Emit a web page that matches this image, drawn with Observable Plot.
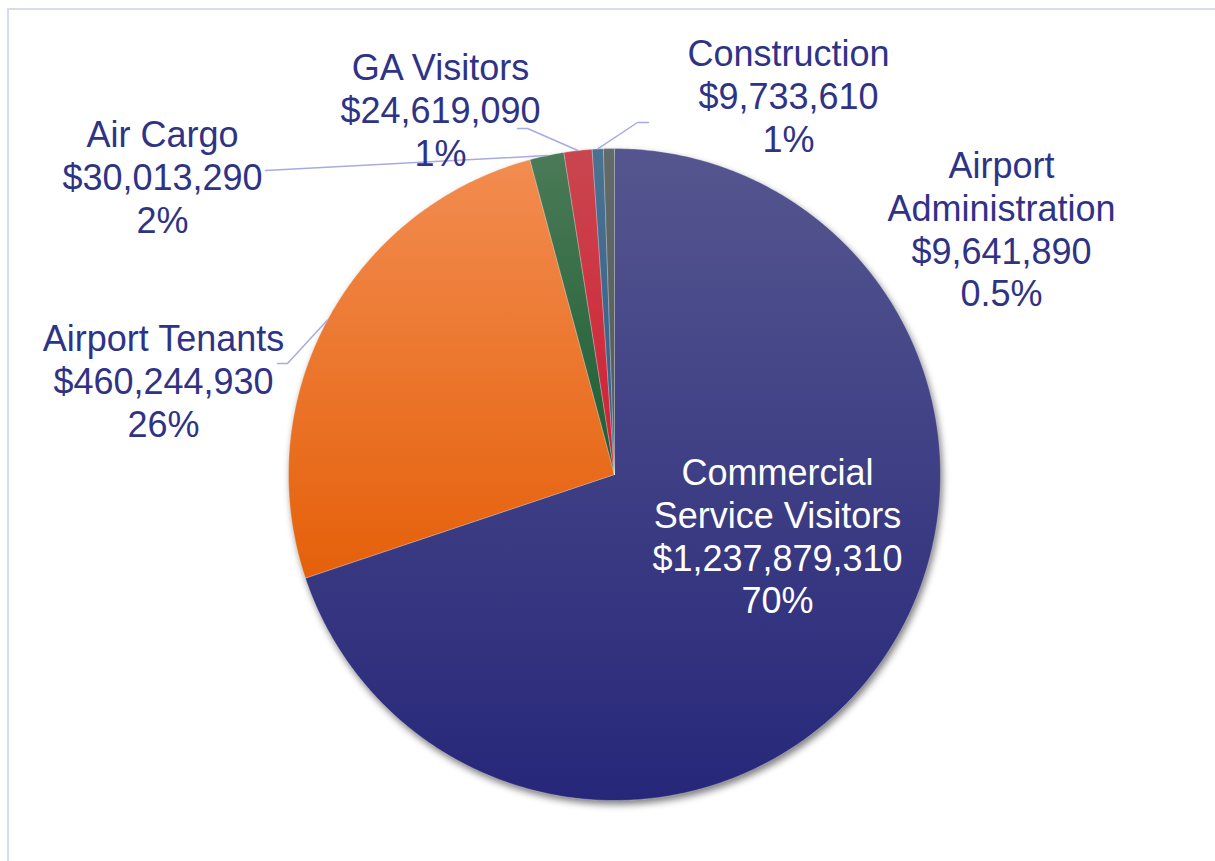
<!DOCTYPE html>
<html>
<head>
<meta charset="utf-8">
<script src="https://cdn.jsdelivr.net/npm/d3@7"></script>
<script src="https://cdn.jsdelivr.net/npm/@observablehq/plot@0.6"></script>
<style>
  html, body { margin: 0; padding: 0; background: #fff; }
  #wrap { position: relative; width: 1215px; height: 861px; overflow: hidden; }
  #frame { position: absolute; left: 7px; top: 8px; width: 1300px; height: 1000px;
           border-left: 2px solid #d9dcf0; border-top: 2px solid #d9dcf0; }
  #chart { position: absolute; left: 0; top: 0; }
  #chart svg { display: block; }
  #defs { position: absolute; width: 0; height: 0; }
</style>
</head>
<body>
<svg id="defs" width="0" height="0"><defs id="defsInner"></defs></svg>
<div id="wrap"><div id="frame"></div><div id="chart"></div></div>
<script>
// ---------- data ----------
const categories = ["Commercial Service Visitors", "Airport Tenants", "Air Cargo", "GA Visitors", "Construction", "Airport Administration"];
const nameLines = ["Commercial\nService Visitors", "Airport Tenants", "Air Cargo", "GA Visitors", "Construction", "Airport\nAdministration"];
const values = [1237879310, 460244930, 30013290, 24619090, 9733610, 9641890];
const pctLabels = ["70%", "26%", "2%", "1%", "1%", "0.5%"];

// ---------- styles / layout ----------
const gradTop = ["#55568f", "#f28c50", "#4b7a57", "#c9464f", "#4b7292", "#626a6a"];
const gradBot = ["#27277a", "#e5600a", "#1d5e33", "#d21f33", "#2e5f88", "#525a5a"];
const W = 1215, H = 861, CX = 614, CY = 474, R = 326;
const px = v => (v - CX) / R;   // pixel -> data units
const py = v => (CY - v) / R;
const labelPos = [[777, 535], [163, 380], [162, 176], [440, 109], [788, 95], [1001, 228]];
const labelColor = ["#ffffff", "#2f3386", "#2f3386", "#2f3386", "#2f3386", "#2f3386"];
const leaders = [
  [1, [287, 363], [277, 363]],
  [2, null, [265, 170]],
  [3, [527, 128], [517, 128]],
  [4, [637, 122], [648, 122]]
];

// gradients + shadow filter (document-level defs)
const defsHTML = gradTop.map((c, i) =>
  `<linearGradient id="sliceGrad${i}" x1="0" y1="0" x2="0" y2="1">` +
  `<stop offset="0" stop-color="${c}"/><stop offset="1" stop-color="${gradBot[i]}"/></linearGradient>`).join("") +
  `<filter id="pieShadow" x="-10%" y="-10%" width="120%" height="120%">` +
  `<feGaussianBlur stdDeviation="3.5"/><feOffset dx="1.5" dy="4"/></filter>`;
document.getElementById("defsInner").innerHTML = defsHTML;

// ---------- geometry from data ----------
const fmt = d3.format("$,");
const arcs = d3.pie().sort(null).startAngle(0).endAngle(2 * Math.PI)(values);
const slices = arcs.map((a) => {
  const n = Math.max(4, Math.ceil((a.endAngle - a.startAngle) / 0.01));
  const pts = [{x: 0, y: 0}];
  for (let k = 0; k <= n; k++) {
    const t = a.startAngle + (a.endAngle - a.startAngle) * k / n;
    pts.push({x: Math.sin(t), y: Math.cos(t)});
  }
  pts.push({x: 0, y: 0});
  return pts;
});
const circle = d3.range(0, 721).map(k => ({x: Math.sin(k * Math.PI / 360), y: Math.cos(k * Math.PI / 360)}));
const labels = categories.map((c, i) => ({
  text: `${nameLines[i]}\n${fmt(values[i])}\n${pctLabels[i]}`,
  x: px(labelPos[i][0]), y: py(labelPos[i][1]), color: labelColor[i]
}));
const leaderPaths = leaders.map(([i, elbow, end]) => {
  const mid = (arcs[i].startAngle + arcs[i].endAngle) / 2;
  const pts = [{x: Math.sin(mid), y: Math.cos(mid)}];
  if (elbow) pts.push({x: px(elbow[0]), y: py(elbow[1])});
  pts.push({x: px(end[0]), y: py(end[1])});
  return pts;
});

const chart = Plot.plot({
  width: W, height: H,
  margin: 0,
  x: {domain: [px(0), px(W)], axis: null},
  y: {domain: [py(H), py(0)], axis: null},
  marks: [
    Plot.line(circle, {x: "x", y: "y", fill: "#000000", fillOpacity: 0.5, stroke: "#000000", strokeOpacity: 0, ariaDescription: "pie-shadow"}),
    ...slices.map((s, i) => Plot.line(s, {
      x: "x", y: "y", fill: `url(#sliceGrad${i})`,
      stroke: "#ffffff", strokeOpacity: 0.35, strokeWidth: 0.8, strokeLinejoin: "round"
    })),
    ...leaderPaths.map(p => Plot.line(p, {x: "x", y: "y", stroke: "#a9abe0", strokeWidth: 1.5})),
    Plot.text(labels, {
      x: "x", y: "y", text: "text", fill: "color",
      fontSize: 36, lineHeight: 1.19, textAnchor: "middle", lineAnchor: "middle",
      fontFamily: "'Liberation Sans', Arial, sans-serif"
    })
  ],
  color: {type: "identity"}
});

const sh = chart.querySelector('g[aria-description="pie-shadow"]');
if (sh) sh.setAttribute("filter", "url(#pieShadow)");
document.getElementById("chart").appendChild(chart);
</script>
</body>
</html>
